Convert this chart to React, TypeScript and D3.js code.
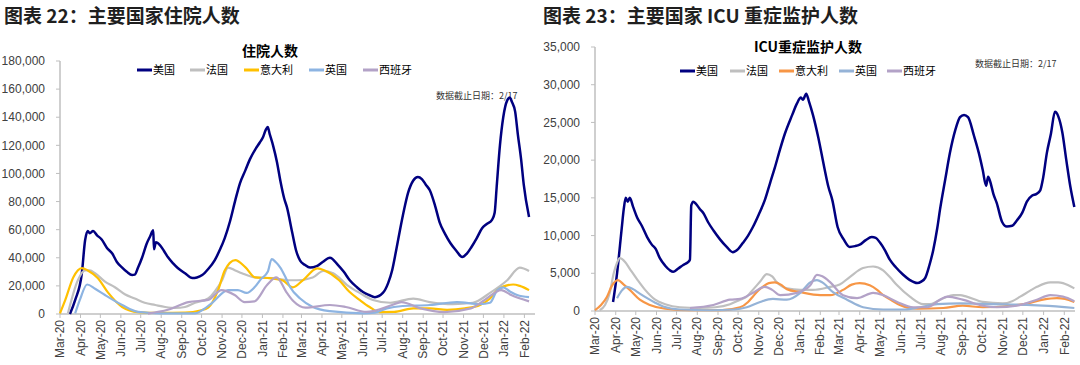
import React from "react";
import * as d3 from "d3";

// ---------- DATA ----------
const xTickLabels = ["Mar-20","Apr-20","May-20","Jun-20","Jul-20","Aug-20","Sep-20","Oct-20","Nov-20","Dec-20","Jan-21","Feb-21","Mar-21","Apr-21","May-21","Jun-21","Jul-21","Aug-21","Sep-21","Oct-21","Nov-21","Dec-21","Jan-22","Feb-22"];
const hospYTicks = [0, 20000, 40000, 60000, 80000, 100000, 120000, 140000, 160000, 180000];
const icuYTicks = [0, 5000, 10000, 15000, 20000, 25000, 30000, 35000];
const seriesNames = ["美国", "法国", "意大利", "英国", "西班牙"];

type Pt = [string, number];

// 住院人数
const hospUS: Pt[] = [
  ["2020-03-16",0],["2020-03-24",10000],["2020-04-03",29000],["2020-04-08",52600],["2020-04-12",59000],["2020-04-15",57500],
  ["2020-04-20",59000],["2020-04-26",56000],["2020-05-03",53000],["2020-05-11",47000],["2020-05-19",43000],["2020-05-26",37000],
  ["2020-06-03",33000],["2020-06-10",30000],["2020-06-18",27700],["2020-06-22",28000],["2020-06-27",33000],["2020-07-03",40000],
  ["2020-07-10",50000],["2020-07-15",55000],["2020-07-20",59500],["2020-07-21",46000],["2020-07-24",51000],["2020-07-30",49000],
  ["2020-08-05",45000],["2020-08-11",40500],["2020-08-19",36000],["2020-08-26",32700],["2020-09-06",29000],["2020-09-17",25600],
  ["2020-09-24",26000],["2020-10-02",27700],["2020-10-11",32000],["2020-10-21",38400],["2020-10-29",46000],["2020-11-05",54000],
  ["2020-11-13",66000],["2020-11-21",81000],["2020-11-28",93000],["2020-12-06",102000],["2020-12-13",110000],["2020-12-21",117000],
  ["2020-12-28",122000],["2021-01-02",126000],["2021-01-06",131000],["2021-01-09",133000],["2021-01-12",128000],["2021-01-17",120000],
  ["2021-01-23",108000],["2021-01-28",95000],["2021-02-03",82000],["2021-02-07",76000],["2021-02-15",58000],["2021-02-21",45000],
  ["2021-02-27",38000],["2021-03-06",35000],["2021-03-14",33000],["2021-03-24",34000],["2021-04-02",37000],["2021-04-13",40000],
  ["2021-04-25",35000],["2021-05-04",30000],["2021-05-13",24000],["2021-05-24",19000],["2021-06-02",15600],["2021-06-11",13500],
  ["2021-06-20",12000],["2021-07-02",15000],["2021-07-10",22000],["2021-07-16",31000],["2021-07-22",45000],["2021-07-28",60000],
  ["2021-08-03",74000],["2021-08-09",86000],["2021-08-17",95000],["2021-08-24",97500],["2021-08-30",96000],["2021-09-05",92000],
  ["2021-09-11",88000],["2021-09-19",77000],["2021-09-26",65000],["2021-10-04",57000],["2021-10-12",50500],["2021-10-21",45000],
  ["2021-10-30",40500],["2021-11-06",43000],["2021-11-13",47700],["2021-11-21",54000],["2021-11-29",61000],["2021-12-06",64000],
  ["2021-12-14",67000],["2021-12-18",72000],["2021-12-21",90000],["2021-12-26",120000],["2021-12-31",140000],["2022-01-06",152000],
  ["2022-01-10",154000],["2022-01-13",151000],["2022-01-18",144000],["2022-01-22",128000],["2022-01-27",110000],["2022-01-31",92000],
  ["2022-02-08",69000],
];
const hospFR: Pt[] = [
  ["2020-03-13",500],["2020-03-28",24000],["2020-04-08",31000],["2020-04-15",31000],["2020-04-23",29000],["2020-05-08",23000],
  ["2020-05-23",19000],["2020-06-07",14000],["2020-06-22",11000],["2020-07-07",8000],["2020-07-23",6400],["2020-08-07",5000],
  ["2020-08-22",4300],["2020-09-06",5000],["2020-09-21",8000],["2020-10-11",11000],["2020-10-21",16000],["2020-11-01",24000],
  ["2020-11-10",33000],["2020-11-21",31000],["2020-12-01",29000],["2020-12-21",26000],["2021-01-15",25600],["2021-02-09",24000],
  ["2021-02-22",24000],["2021-03-18",26000],["2021-04-03",30600],["2021-04-18",29000],["2021-05-09",20600],["2021-05-28",15000],
  ["2021-06-17",10000],["2021-07-13",8000],["2021-08-17",11000],["2021-09-11",8500],["2021-10-16",7000],["2021-11-15",8000],
  ["2021-12-11",15000],["2022-01-06",24000],["2022-01-25",33000],["2022-02-08",30600],
];
const hospIT: Pt[] = [
  ["2020-03-01",500],["2020-03-09",10000],["2020-03-21",26000],["2020-04-03",32700],["2020-04-12",31000],["2020-04-27",25600],
  ["2020-05-13",15000],["2020-06-03",5000],["2020-06-27",1400],["2020-07-30",800],["2020-09-06",1000],["2020-09-29",2500],
  ["2020-10-11",4500],["2020-10-26",17000],["2020-11-05",31000],["2020-11-21",38400],["2020-12-06",33400],["2020-12-21",26000],
  ["2021-01-09",25600],["2021-01-31",24000],["2021-02-16",19000],["2021-03-03",24000],["2021-03-25",32500],["2021-04-05",31000],
  ["2021-04-27",24000],["2021-05-12",16000],["2021-05-28",10000],["2021-06-12",5000],["2021-06-27",1400],["2021-07-19",1500],
  ["2021-08-17",4000],["2021-09-11",4000],["2021-10-07",3000],["2021-11-03",4000],["2021-11-26",6400],["2021-12-11",11000],
  ["2021-12-22",17000],["2022-01-15",21000],["2022-01-25",20000],["2022-02-08",17000],
];
const hospUK: Pt[] = [
  ["2020-03-24",500],["2020-03-31",10000],["2020-04-11",21000],["2020-04-23",18000],["2020-05-08",13500],["2020-06-03",6400],
  ["2020-06-27",1500],["2020-07-30",500],["2020-09-21",500],["2020-10-03",3000],["2020-10-17",8000],["2020-11-10",17000],
  ["2020-11-25",17000],["2020-12-08",15000],["2020-12-20",19000],["2020-12-30",25000],["2021-01-09",30000],["2021-01-15",39000],
  ["2021-01-21",37000],["2021-01-28",33000],["2021-02-04",27000],["2021-02-12",19000],["2021-02-27",11000],["2021-03-18",5000],
  ["2021-04-13",2000],["2021-06-02",500],["2021-06-20",1000],["2021-07-08",4000],["2021-08-01",5700],["2021-09-11",6400],
  ["2021-10-22",8500],["2021-11-26",7000],["2021-12-11",8000],["2021-12-22",17000],["2021-12-31",19000],["2022-01-10",16000],
  ["2022-01-21",13500],["2022-02-08",12000],
];
const hospES: Pt[] = [
  ["2020-07-12",300],["2020-08-11",3000],["2020-09-11",8500],["2020-10-11",10000],["2020-10-31",17000],["2020-11-20",13500],
  ["2020-12-05",8500],["2020-12-20",9000],["2021-01-08",20600],["2021-01-22",26000],["2021-02-07",15000],["2021-02-17",9000],
  ["2021-03-07",4500],["2021-04-13",6400],["2021-05-07",5000],["2021-06-07",1500],["2021-07-16",6400],["2021-07-30",8500],
  ["2021-08-28",4000],["2021-10-03",1400],["2021-11-12",4000],["2021-12-03",10000],["2021-12-28",17000],["2022-01-12",13500],
  ["2022-02-08",9000],
];

// ICU重症监护人数
const icuUS: Pt[] = [
  ["2020-03-28",1200],["2020-04-03",5000],["2020-04-10",11000],["2020-04-13",13500],["2020-04-16",15000],["2020-04-19",14500],
  ["2020-04-22",15000],["2020-04-27",13800],["2020-05-03",12400],["2020-05-10",11300],["2020-05-18",9800],["2020-05-25",8800],
  ["2020-05-31",8200],["2020-06-06",7000],["2020-06-14",6000],["2020-06-21",5400],["2020-06-26",5200],["2020-07-03",5600],
  ["2020-07-11",6100],["2020-07-17",6400],["2020-07-21",6800],["2020-07-23",14000],["2020-07-26",14500],["2020-07-30",14200],
  ["2020-08-05",13500],["2020-08-10",13000],["2020-08-17",11800],["2020-08-25",10700],["2020-09-04",9500],["2020-09-14",8500],
  ["2020-09-23",7800],["2020-10-01",8200],["2020-10-08",9000],["2020-10-16",10000],["2020-10-23",11100],["2020-11-01",12800],
  ["2020-11-10",14700],["2020-11-18",17000],["2020-11-25",19000],["2020-12-03",21500],["2020-12-10",23500],["2020-12-21",26000],
  ["2020-12-28",27500],["2021-01-03",28300],["2021-01-06",28000],["2021-01-11",28800],["2021-01-15",27800],["2021-01-21",26000],
  ["2021-01-29",23000],["2021-02-07",19000],["2021-02-13",16500],["2021-02-19",14700],["2021-02-27",11100],["2021-03-08",9500],
  ["2021-03-17",8500],["2021-03-25",8600],["2021-04-01",8800],["2021-04-10",9400],["2021-04-19",9800],["2021-04-25",9700],
  ["2021-05-01",9100],["2021-05-09",8000],["2021-05-16",6800],["2021-05-25",5800],["2021-06-05",4800],["2021-06-15",4100],
  ["2021-06-26",3700],["2021-07-02",3900],["2021-07-08",4400],["2021-07-14",6000],["2021-07-20",8100],["2021-07-26",11000],
  ["2021-07-30",13400],["2021-08-07",17500],["2021-08-14",21000],["2021-08-22",24000],["2021-08-29",25700],["2021-09-04",26000],
  ["2021-09-10",25700],["2021-09-19",23200],["2021-09-26",21000],["2021-10-02",18700],["2021-10-07",16600],["2021-10-10",17800],
  ["2021-10-13",17200],["2021-10-18",15500],["2021-10-23",14300],["2021-10-31",11800],["2021-11-07",11200],["2021-11-15",11300],
  ["2021-11-22",12000],["2021-11-30",13000],["2021-12-07",14500],["2021-12-15",15300],["2021-12-21",15500],["2021-12-27",16000],
  ["2021-12-31",17500],["2022-01-06",21000],["2022-01-12",23500],["2022-01-18",26400],["2022-01-23",25800],["2022-01-29",23700],
  ["2022-02-04",20000],["2022-02-10",16500],["2022-02-16",13800],
];
const icuFR: Pt[] = [
  ["2020-03-08",100],["2020-03-16",800],["2020-03-23",2400],["2020-03-29",5000],["2020-04-03",6400],["2020-04-07",7000],
  ["2020-04-15",6500],["2020-04-22",5600],["2020-05-03",4200],["2020-05-15",2800],["2020-05-30",1500],["2020-06-14",900],
  ["2020-07-06",500],["2020-08-05",400],["2020-08-28",500],["2020-09-19",900],["2020-10-04",1500],["2020-10-14",1900],
  ["2020-10-23",2800],["2020-11-03",3900],["2020-11-13",4900],["2020-11-21",4600],["2020-11-28",3800],["2020-12-13",3000],
  ["2021-01-02",2800],["2021-01-21",2800],["2021-02-16",3200],["2021-03-02",3500],["2021-03-17",4500],["2021-04-06",5700],
  ["2021-04-21",5900],["2021-05-06",5400],["2021-05-16",4500],["2021-05-27",3400],["2021-06-15",1900],["2021-07-05",900],
  ["2021-07-15",900],["2021-07-26",1300],["2021-08-07",1800],["2021-08-19",2100],["2021-08-29",2100],["2021-09-08",1900],
  ["2021-10-02",1200],["2021-11-01",1000],["2021-11-15",1300],["2021-11-27",1900],["2021-12-12",2700],["2021-12-22",3200],
  ["2022-01-11",3800],["2022-01-23",3800],["2022-01-30",3700],["2022-02-07",3400],["2022-02-16",3000],
];
const icuIT: Pt[] = [
  ["2020-03-01",100],["2020-03-10",800],["2020-03-19",1900],["2020-03-26",3300],["2020-04-04",4100],["2020-04-13",3500],
  ["2020-04-22",2800],["2020-05-07",1500],["2020-05-22",800],["2020-06-14",300],["2020-07-21",100],["2020-09-04",100],
  ["2020-10-04",500],["2020-10-16",1200],["2020-10-23",1900],["2020-10-31",2700],["2020-11-07",3200],["2020-11-16",3700],
  ["2020-11-25",3800],["2020-12-04",3500],["2020-12-13",2900],["2021-01-02",2500],["2021-02-01",2100],["2021-02-16",2100],
  ["2021-03-07",2800],["2021-03-20",3500],["2021-04-01",3700],["2021-04-16",3400],["2021-04-27",2800],["2021-05-06",2100],
  ["2021-05-19",1400],["2021-05-31",800],["2021-06-26",300],["2021-08-04",400],["2021-09-02",700],["2021-10-02",500],
  ["2021-11-12",700],["2021-12-07",1000],["2021-12-31",1500],["2022-01-21",1700],["2022-02-02",1600],["2022-02-16",1200],
];
const icuUK: Pt[] = [
  ["2020-04-03",1700],["2020-04-10",2700],["2020-04-18",3200],["2020-04-27",2900],["2020-05-07",2300],["2020-05-18",1700],
  ["2020-05-30",1100],["2020-06-11",600],["2020-07-06",200],["2020-08-20",100],["2020-09-26",200],["2020-10-14",500],
  ["2020-11-03",1200],["2020-11-22",1600],["2020-12-13",1500],["2021-01-02",2400],["2021-01-17",3800],["2021-01-27",4100],
  ["2021-02-04",3800],["2021-02-20",2500],["2021-03-13",1500],["2021-04-06",500],["2021-05-06",200],["2021-06-08",200],
  ["2021-06-30",500],["2021-07-26",900],["2021-08-29",1000],["2021-10-17",900],["2021-12-07",800],["2021-12-31",700],
  ["2022-02-16",400],
];
const icuES: Pt[] = [
  ["2020-07-21",400],["2020-08-25",800],["2020-09-19",1500],["2020-10-04",1600],["2020-10-23",2400],["2020-11-10",3200],
  ["2020-11-21",2800],["2020-12-03",2100],["2020-12-28",2400],["2021-01-17",3400],["2021-01-27",4800],["2021-02-04",4600],
  ["2021-02-16",3800],["2021-03-07",2100],["2021-03-28",1700],["2021-04-21",2400],["2021-05-06",2100],["2021-05-27",1200],
  ["2021-06-20",500],["2021-07-11",500],["2021-07-30",1500],["2021-08-10",1900],["2021-09-02",1500],["2021-10-02",700],
  ["2021-10-23",500],["2021-11-22",700],["2021-12-22",1500],["2022-01-11",2100],["2022-01-30",1900],["2022-02-16",1300],
];

// ---------- CHART ----------
const parseDay = d3.timeParse("%Y-%m-%d");
const parseMonth = d3.timeParse("%b-%y");
const xStart = parseDay("2020-03-01") as Date;
const xEnd = parseDay("2022-02-17") as Date;

const LATIN = "'Liberation Sans', Arial, 'Noto Sans CJK SC', sans-serif";
const CJK = "'Noto Sans CJK SC', 'Liberation Sans', sans-serif";

type SeriesDef = { name: string; data: Pt[]; color: string; width: number };

type ChartCfg = {
  mainTitle: string;
  mainTitleX: number;
  x0: number; x1: number; yTop: number; yBottom: number;
  yMax: number; yTicks: number[];
  title: string; titleX: number; titleY: number;
  legendY: number; legendX: number[];
  noteX: number; noteY: number;
  series: SeriesDef[];
};

const Chart: React.FC<{ cfg: ChartCfg }> = ({ cfg }) => {
  const x = d3.scaleTime().domain([xStart, xEnd]).range([cfg.x0, cfg.x1]);
  const y = d3.scaleLinear().domain([0, cfg.yMax]).range([cfg.yBottom, cfg.yTop]);
  const fmt = d3.format(",");
  const line = d3
    .line<Pt>()
    .x((d) => x(parseDay(d[0]) as Date))
    .y((d) => y(d[1]))
    .curve(d3.curveMonotoneX);
  const axisColor = "#bfbfbf";
  const labelColor = "#404040";
  return (
    <g>
      <text x={cfg.mainTitleX} y={23} fontFamily={CJK} fontWeight={700} fontSize={19} fill="#1f1f1f">
        {cfg.mainTitle}
      </text>
      <text x={cfg.titleX} y={cfg.titleY} textAnchor="middle" fontFamily={CJK} fontWeight={700} fontSize={14} fill="#000">
        {cfg.title}
      </text>
      {/* legend */}
      {cfg.series.map((s, i) => (
        <g key={s.name}>
          <line x1={cfg.legendX[i]} x2={cfg.legendX[i] + 15} y1={cfg.legendY} y2={cfg.legendY} stroke={s.color} strokeWidth={3} />
          <text x={cfg.legendX[i] + 16} y={cfg.legendY} dy="0.36em" fontFamily={CJK} fontSize={11} fill="#000">
            {s.name}
          </text>
        </g>
      ))}
      <text x={cfg.noteX} y={cfg.noteY} fontFamily={CJK} fontSize={9} fill="#333">
        数据截止日期：2/17
      </text>
      {/* y axis */}
      <line x1={cfg.x0} x2={cfg.x0} y1={cfg.yTop} y2={cfg.yBottom} stroke={axisColor} strokeWidth={1.5} />
      {cfg.yTicks.map((t) => (
        <g key={t}>
          <line x1={cfg.x0 - 4} x2={cfg.x0} y1={y(t)} y2={y(t)} stroke={axisColor} strokeWidth={1} />
          <text x={cfg.x0 - 15} y={y(t)} dy="0.35em" textAnchor="end" fontFamily={LATIN} fontSize={12} fill={labelColor}>
            {fmt(t)}
          </text>
        </g>
      ))}
      {/* x axis */}
      <line x1={cfg.x0} x2={cfg.x1} y1={cfg.yBottom} y2={cfg.yBottom} stroke={axisColor} strokeWidth={1.5} />
      {xTickLabels.map((lab) => {
        const px = x(parseMonth(lab) as Date);
        return (
          <g key={lab}>
            <line x1={px} x2={px} y1={cfg.yBottom} y2={cfg.yBottom + 4} stroke={axisColor} strokeWidth={1} />
            <text
              transform={`translate(${px},${cfg.yBottom + 6}) rotate(-90)`}
              dy="0.35em"
              textAnchor="end"
              fontFamily={LATIN}
              fontSize={12}
              fill={labelColor}
            >
              {lab}
            </text>
          </g>
        );
      })}
      {/* lines */}
      {cfg.series.map((s) => (
        <path key={s.name} d={line(s.data) || ""} fill="none" stroke={s.color} strokeWidth={s.width} strokeLinejoin="round" />
      ))}
    </g>
  );
};

const hospCfg: ChartCfg = {
  mainTitle: "图表 22：主要国家住院人数",
  mainTitleX: 4,
  x0: 60, x1: 535, yTop: 61, yBottom: 314,
  yMax: 180000, yTicks: hospYTicks,
  title: "住院人数", titleX: 270, titleY: 56,
  legendY: 70, legendX: [137, 190, 244, 309, 363],
  noteX: 436, noteY: 99,
  series: [
    { name: seriesNames[0], data: hospUS, color: "#000080", width: 2.5 },
    { name: seriesNames[1], data: hospFR, color: "#bfbfbf", width: 2.2 },
    { name: seriesNames[2], data: hospIT, color: "#ffc000", width: 2.2 },
    { name: seriesNames[3], data: hospUK, color: "#8db4e2", width: 2.2 },
    { name: seriesNames[4], data: hospES, color: "#b3a2c7", width: 2.2 },
  ],
};

const icuCfg: ChartCfg = {
  mainTitle: "图表 23：主要国家 ICU 重症监护人数",
  mainTitleX: 543,
  x0: 595, x1: 1075, yTop: 47, yBottom: 311,
  yMax: 35000, yTicks: icuYTicks,
  title: "ICU重症监护人数", titleX: 808, titleY: 52,
  legendY: 71, legendX: [680, 730, 779, 839, 887],
  noteX: 975, noteY: 67,
  series: [
    { name: seriesNames[0], data: icuUS, color: "#000080", width: 2.5 },
    { name: seriesNames[1], data: icuFR, color: "#bfbfbf", width: 2.2 },
    { name: seriesNames[2], data: icuIT, color: "#f79646", width: 2.2 },
    { name: seriesNames[3], data: icuUK, color: "#95b3d7", width: 2.2 },
    { name: seriesNames[4], data: icuES, color: "#b3a2c7", width: 2.2 },
  ],
};

export default function App() {
  return (
    <svg
      width={1080}
      height={365}
      viewBox="0 0 1080 365"
      style={{ position: "absolute", left: 0, top: 0, background: "#fff" }}
    >
      <rect x={0} y={0} width={1080} height={365} fill="#fff" />
      <Chart cfg={hospCfg} />
      <Chart cfg={icuCfg} />
    </svg>
  );
}
